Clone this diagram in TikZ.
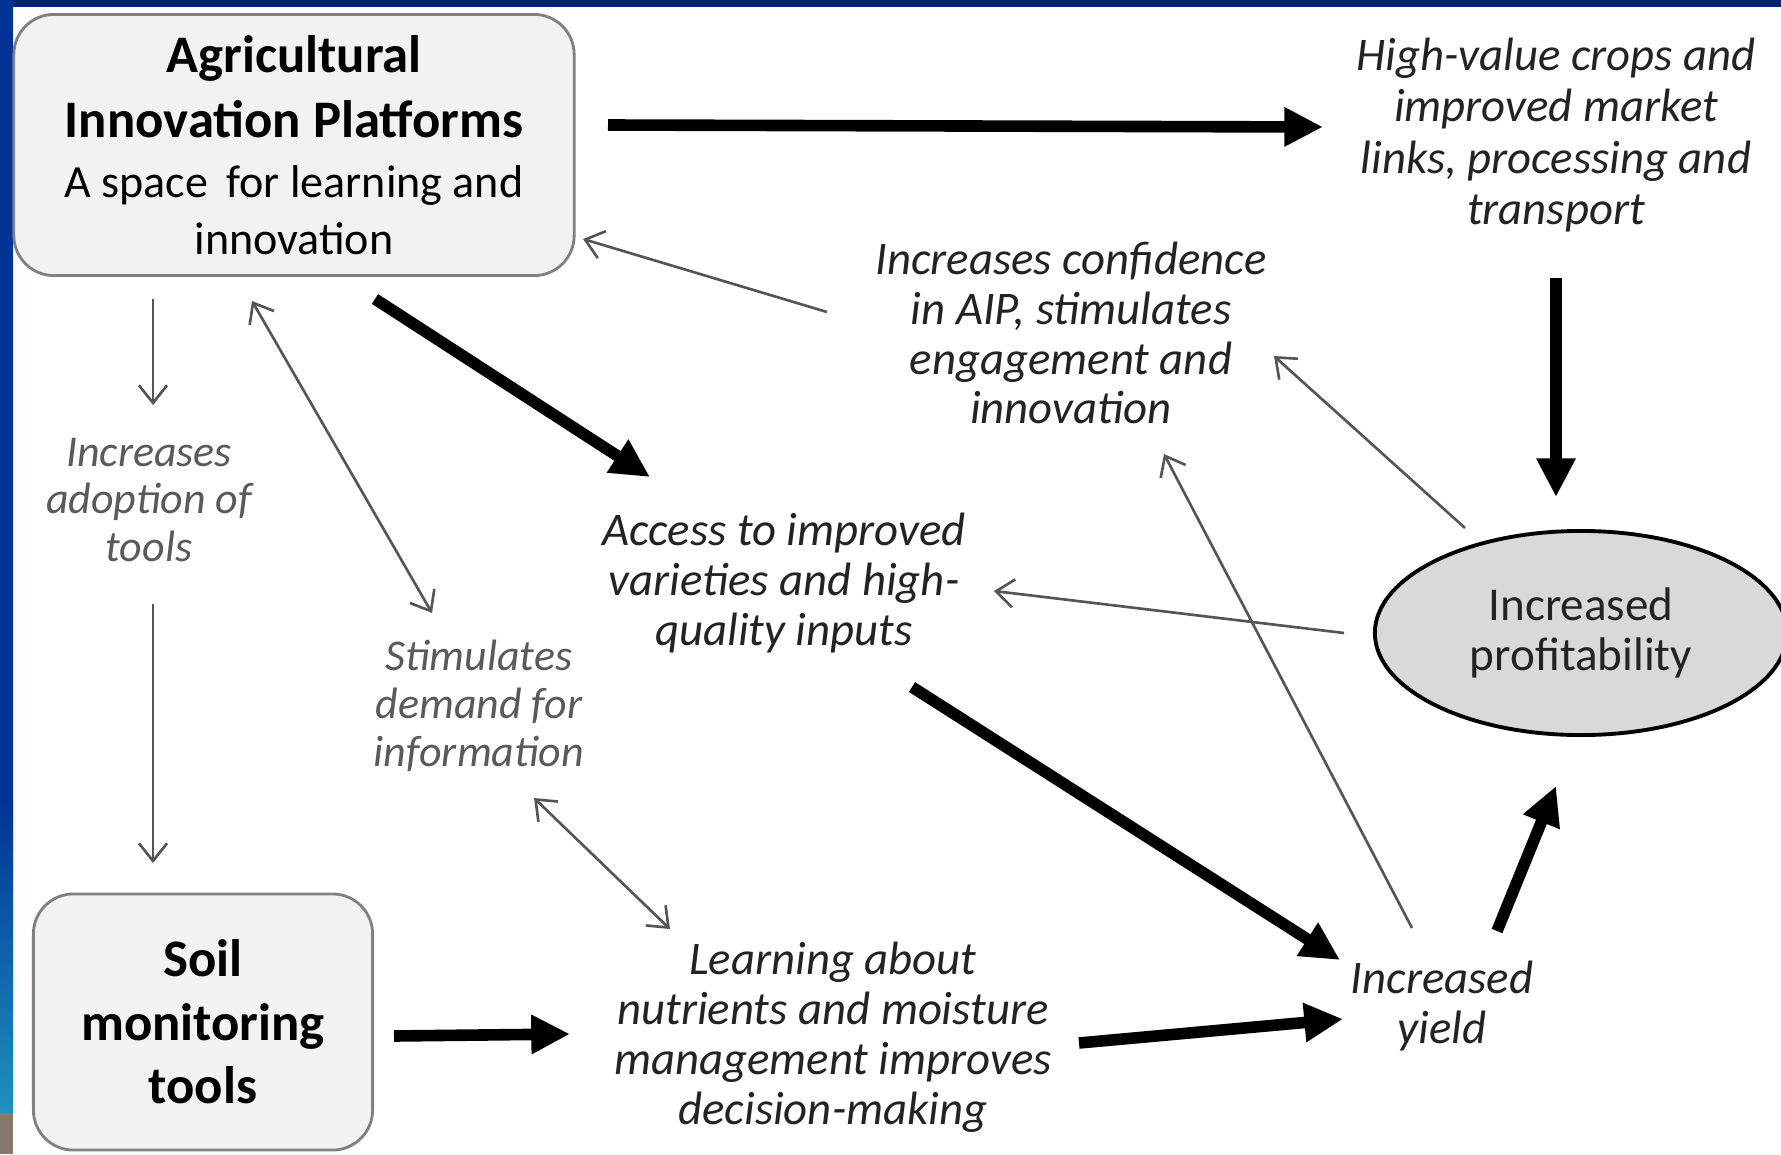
\documentclass[tikz,border=0pt]{standalone}
\usepackage{fontspec}
\setmainfont{Carlito}
\usetikzlibrary{arrows.meta,shapes.geometric}
\definecolor{framenavy}{RGB}{0,36,112}
\definecolor{stripblue}{RGB}{0,50,150}
\definecolor{stripcyan}{RGB}{30,146,190}
\definecolor{stripbrown}{RGB}{134,122,110}
\definecolor{boxfill}{RGB}{242,242,242}
\definecolor{boxline}{RGB}{128,128,128}
\definecolor{ovalfill}{RGB}{217,217,217}
\definecolor{inktext}{RGB}{35,35,35}
\definecolor{softtext}{RGB}{90,90,90}
\definecolor{linkgray}{RGB}{85,85,85}
\begin{document}
\begin{tikzpicture}[x=0.01cm,y=-0.01cm,
  pbox/.style={draw=boxline, line width=0.8pt, fill=boxfill, rounded corners=0.4cm,
    align=center, inner sep=0pt, text=black},
  oval/.style={ellipse, draw=black, line width=1.1pt, fill=ovalfill, inner sep=0pt,
    align=center, text=inktext, font=\fontsize{13.4}{14}\selectfont},
  itxt/.style={align=center, inner sep=0pt, text=inktext, font=\fontsize{13.3}{14.2}\selectfont\itshape},
  gtxt/.style={itxt, text=softtext, font=\fontsize{12.5}{13.6}\selectfont\itshape},
  major/.style={line width=3.3pt, draw=black, -{Triangle[length=11pt,width=10.5pt]}},
  minor/.style={line width=0.75pt, draw=linkgray, -{Straight Barb[length=5pt,width=8pt]}},
  minorboth/.style={minor, {Straight Barb[length=5pt,width=8pt]}-{Straight Barb[length=5pt,width=8pt]}}
]
\useasboundingbox (0,0) rectangle (1781,1154);
\fill[white] (0,0) rectangle (1781,1154);

% slide frame
\fill[framenavy] (0,0) rectangle (1781,7);
\fill[stripblue] (0,0) rectangle (13,800);
\shade[top color=stripblue, bottom color=stripcyan] (0,800) rectangle (13,1113);
\fill[stripbrown] (0,1113) rectangle (13,1154);

% boxes
\node[pbox, minimum width=5.6cm, minimum height=2.61cm,
      font=\fontsize{15}{18.4}\selectfont\bfseries] (aip) at (294,145)
  {Agricultural\\
   Innovation Platforms\\[-1.4pt]
   {\fontsize{13.1}{16.1}\selectfont\mdseries A space\, for learning and}\\[-2.2pt]
   {\fontsize{13.1}{16.1}\selectfont\mdseries innovation}};
\node[pbox, minimum width=3.39cm, minimum height=2.56cm,
      font=\fontsize{15}{18.1}\selectfont\bfseries] (soil) at (203,1022)
  {Soil\\monitoring\\tools};
\node[oval, minimum width=4.12cm, minimum height=2.04cm] (prof) at (1581,633)
  {Increased\\profitability};

% text nodes
\node[itxt, font=\fontsize{13.3}{14.6}\selectfont\itshape] (hv) at (1556,135)
  {High-value crops and\\improved market\\links, processing and\\transport};
\node[itxt] (conf) at (1071,333) {Increases confidence\\in AIP, stimulates\\engagement and\\innovation};
\node[gtxt] (adopt) at (149,500) {Increases\\adoption of\\tools};
\node[gtxt] (stim) at (479,706) {Stimulates\\demand for\\information};
\node[itxt] (access) at (784,583) {Access to improved\\varieties and high-\\quality inputs};
\node[itxt] (learn) at (833,1037) {Learning about\\nutrients and moisture\\management improves\\decision-making};
\node[itxt] (yield) at (1442,1006) {Increased\\yield};

% connector end points
\coordinate (aip-hv) at (608,125);     \coordinate (hv-in) at (1323,127);
\coordinate (hv-out) at (1556,278);    \coordinate (prof-top) at (1556,497);
\coordinate (aip-acc) at (375,299);    \coordinate (acc-in) at (650,477);
\coordinate (acc-out) at (912,687);    \coordinate (yield-in1) at (1340,960);
\coordinate (soil-out) at (394,1036);  \coordinate (learn-in) at (570,1034);
\coordinate (learn-out) at (1079,1043);\coordinate (yield-in2) at (1343,1019);
\coordinate (yield-up) at (1497,931);  \coordinate (prof-bot) at (1556,786);
\coordinate (conf-left) at (827,312);  \coordinate (aip-back) at (583,239);
\coordinate (prof-ul) at (1465,528);   \coordinate (conf-in1) at (1274,356);
\coordinate (prof-left) at (1344,633); \coordinate (acc-back) at (994,591);
\coordinate (yield-top) at (1412,928); \coordinate (conf-in2) at (1164,454);
\coordinate (aip-down) at (153,299);   \coordinate (adopt-in) at (153,405);
\coordinate (adopt-out) at (153,604);  \coordinate (soil-top) at (153,863);
\coordinate (aip-stim) at (252,301);   \coordinate (stim-top) at (432,613);
\coordinate (stim-bot) at (534,798);   \coordinate (learn-top) at (670,929);

% main causal chain
\draw[major] (aip-hv) -- (hv-in);
\draw[major] (hv-out) -- (prof-top);
\draw[major] (aip-acc) -- (acc-in);
\draw[major] (acc-out) -- (yield-in1);
\draw[major] (soil-out) -- (learn-in);
\draw[major] (learn-out) -- (yield-in2);
\draw[major] (yield-up) -- (prof-bot);

% feedback links
\draw[minor] (conf-left) -- (aip-back);
\draw[minor] (prof-ul) -- (conf-in1);
\draw[minor] (prof-left) -- (acc-back);
\draw[minor] (yield-top) -- (conf-in2);
\draw[minor] (aip-down) -- (adopt-in);
\draw[minor] (adopt-out) -- (soil-top);
\draw[minorboth] (aip-stim) -- (stim-top);
\draw[minorboth] (stim-bot) -- (learn-top);
\end{tikzpicture}
\end{document}
